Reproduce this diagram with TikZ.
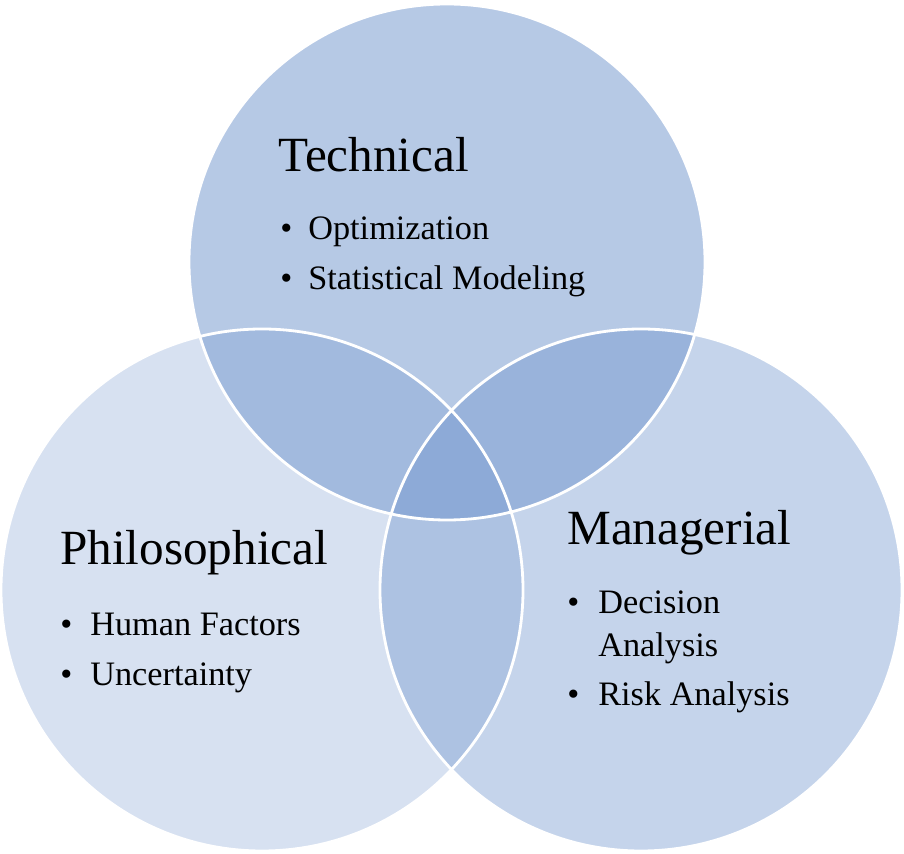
\documentclass[tikz,border=0pt]{standalone}
\usepackage{fontspec}
\setmainfont{Liberation Serif}
\definecolor{vb}{HTML}{6E93CC}
\begin{document}
\begin{tikzpicture}[x=0.02cm,y=-0.02cm,
  circ/.style={fill=vb},
  rim/.style={draw=white,line width=1.6pt},
  head/.style={anchor=base west,inner sep=0pt,font=\fontsize{28}{30}\selectfont},
  item/.style={anchor=base west,inner sep=0pt,font=\fontsize{19.5}{22}\selectfont}]
\useasboundingbox (0,0) rectangle (904,854);
\fill[circ,fill opacity=0.28] (262,590) circle (261);
\fill[circ,fill opacity=0.5] (447,262) circle (258);
\fill[circ,fill opacity=0.4] (641,590) circle (261);
\draw[rim] (262,590) circle (261);
\draw[rim] (447,262) circle (258);
\draw[rim] (641,590) circle (261);
\node[head] (t) at (278,172) {Technical};
\node[item] (tb1) at (280,240) {•};
\node[item] (t1) at (308,240) {Optimization};
\node[item] (tb2) at (280,290) {•};
\node[item] (t2) at (308,290) {Statistical Modeling};
\node[head] (p) at (60,565) {Philosophical};
\node[item] (pb1) at (60,636) {•};
\node[item] (p1) at (90,636) {Human Factors};
\node[item] (pb2) at (60,686) {•};
\node[item] (p2) at (90,686) {Uncertainty};
\node[head] (m) at (567,545) {Managerial};
\node[item] (mb1) at (567,614) {•};
\node[item] (m1) at (598,614) {Decision};
\node[item] (m1b) at (598,657) {Analysis};
\node[item] (mb2) at (567,706) {•};
\node[item] (m2) at (598,706) {Risk Analysis};
\end{tikzpicture}
\end{document}
